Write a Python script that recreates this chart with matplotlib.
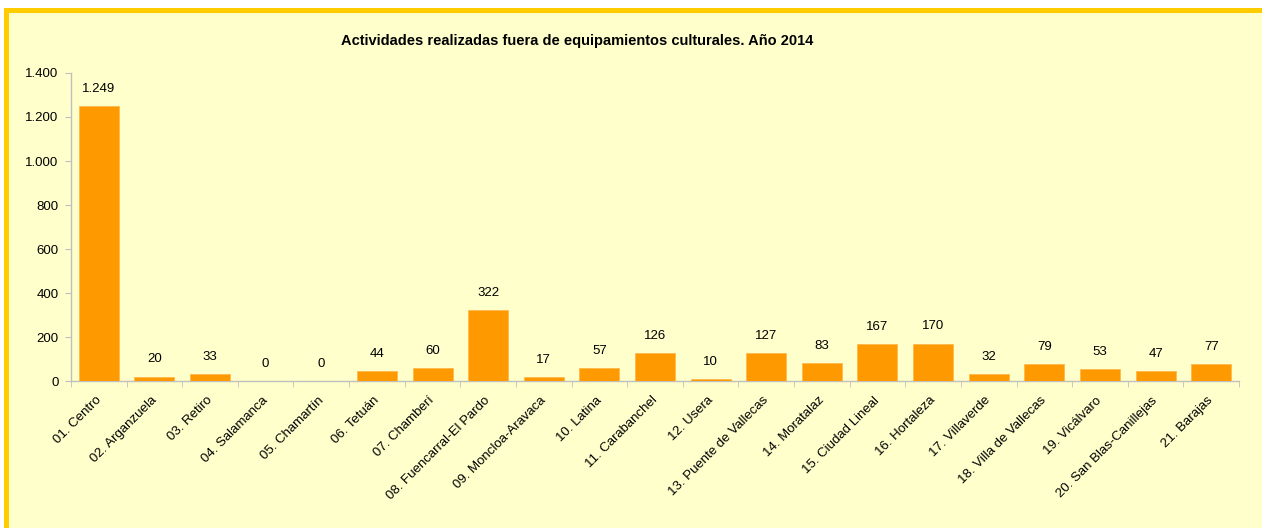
import matplotlib
matplotlib.use("Agg")
import matplotlib.pyplot as plt
from matplotlib.patches import Rectangle
from matplotlib.ticker import FuncFormatter, FixedLocator, MultipleLocator
from matplotlib.transforms import ScaledTranslation

plt.rcParams['font.family'] = ['Liberation Sans', 'DejaVu Sans']

categories = ["01. Centro", "02. Arganzuela", "03. Retiro", "04. Salamanca", "05. Chamartín",
              "06. Tetuán", "07. Chamberí", "08. Fuencarral-El Pardo", "09. Moncloa-Aravaca",
              "10. Latina", "11. Carabanchel", "12. Usera", "13. Puente de Vallecas",
              "14. Moratalaz", "15. Ciudad Lineal", "16. Hortaleza", "17. Villaverde",
              "18. Villa de Vallecas", "19. Vicálvaro", "20. San Blas-Canillejas", "21. Barajas"]
values = [1249, 20, 33, 0, 0, 44, 60, 322, 17, 57, 126, 10, 127, 83, 167, 170, 32, 79, 53, 47, 77]
title = "Actividades realizadas fuera de equipamientos culturales. Año 2014"

W, H = 1262, 528
fig = plt.figure(figsize=(W/100, H/100), dpi=100)
fig.patch.set_facecolor('white')
bg = Rectangle((5.5/W, -0.2), 1.2, (H - 9.5)/H + 0.2, transform=fig.transFigure,
               facecolor='#FFFFCC', edgecolor='#FFCC00', linewidth=3.6, zorder=-10)
fig.patches.append(bg)

ax = fig.add_axes([71/W, (H-381)/H, (1239-71)/W, (381-73)/H])
ax.set_facecolor('none')
x = list(range(len(categories)))
ax.bar(x, values, width=0.72, color='#FF9900', edgecolor='#FFB84D', linewidth=0.6, zorder=3)
ax.set_xlim(-0.5, len(categories) - 0.5)
ax.set_ylim(0, 1400)
ax.yaxis.set_major_locator(MultipleLocator(200))
ax.yaxis.set_major_formatter(FuncFormatter(lambda v, p: f"{int(v):,}".replace(",", ".")))

for xi, v in zip(x, values):
    ax.annotate(f"{v:,}".replace(",", "."), (xi, v), xytext=(0, 8), textcoords='offset points',
                ha='center', va='bottom', fontsize=9.5, color='black')

ax.xaxis.set_major_locator(FixedLocator(x))
ax.set_xticklabels(categories, rotation=45, ha='right', rotation_mode='anchor', fontsize=9.5)
ax.tick_params(axis='x', which='major', length=0, pad=6)
shift = ScaledTranslation(-4/100, -5/100, fig.dpi_scale_trans)
for lab in ax.get_xticklabels():
    lab.set_transform(lab.get_transform() + shift)
ax.xaxis.set_minor_locator(FixedLocator([i - 0.5 for i in range(len(categories) + 1)]))
ax.tick_params(axis='x', which='minor', length=4, color='#BFBFBF')
ax.tick_params(axis='y', length=4, color='#BFBFBF', labelsize=9.5, pad=5)

for s in ['top', 'right']:
    ax.spines[s].set_visible(False)
for s in ['left', 'bottom']:
    ax.spines[s].set_color('#BFBFBF')
    ax.spines[s].set_linewidth(1)

fig.text(577/W, 1 - 41/H, title, ha='center', va='center', fontsize=10.5, fontweight='bold')

fig.savefig('out.png', dpi=100, facecolor=fig.get_facecolor())
